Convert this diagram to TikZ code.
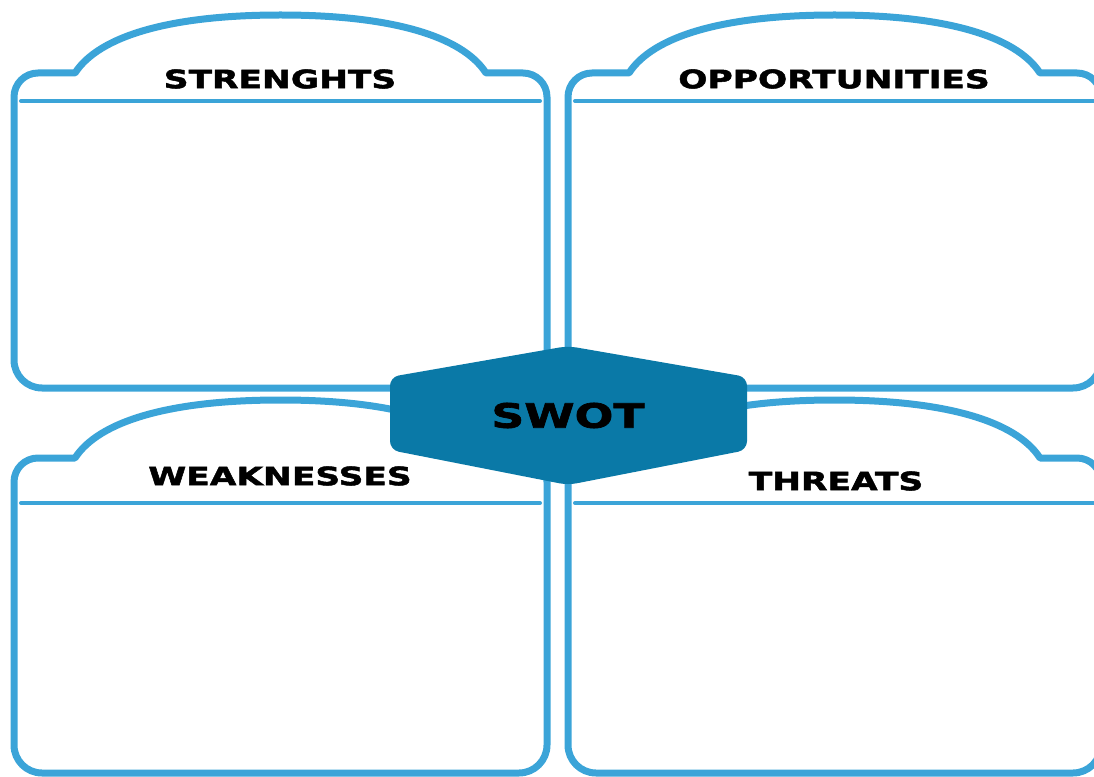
\documentclass[tikz,border=0pt]{standalone}
\usepackage{fontspec}
\usepackage{xcolor}
\usepackage{tikz}
\newfontfamily\headfont{DejaVu Sans}[FakeStretch=1.36,FakeBold=2]
\definecolor{cLine}{HTML}{3BA4D8}
\definecolor{cHex}{HTML}{0A79A7}
\tikzset{boxline/.style={draw=cLine,line width=0.14cm,line join=round},
  headrule/.style={draw=cLine,line width=0.08cm,line cap=round},
  headlabel/.style={font=\headfont\bfseries\fontsize{14.4}{17}\selectfont,inner sep=0pt}}
% one quadrant: frame with a domed tab on top, rule under the heading at height #2
\newcommand{\swotbox}[2]{%
  \begin{scope}[shift={(#1)}]
    \draw[boxline] (1.22,6.30) -- (0.48,6.30) arc[start angle=90,end angle=180,radius=0.48]
      -- (0,0.56) arc[start angle=180,end angle=270,radius=0.56]
      -- (10.10,0) arc[start angle=270,end angle=360,radius=0.56]
      -- (10.66,5.82) arc[start angle=0,end angle=90,radius=0.48]
      -- (9.44,6.30) .. controls (8.96,7.04) and (7.54,7.46) .. (5.33,7.46)
      .. controls (3.12,7.46) and (1.70,7.04) .. (1.22,6.30) -- cycle;
    \draw[headrule] (0.14,#2) -- (10.52,#2);
  \end{scope}}

\begin{document}
\begin{tikzpicture}
  \useasboundingbox (0,0) rectangle (21.88,15.52);
  \swotbox{0.28,7.76}{5.74}
  \swotbox{11.36,7.76}{5.74}
  \swotbox{0.28,0.06}{5.40}
  \swotbox{11.36,0.06}{5.40}
  \node[headlabel] (strengths) at (5.60,13.94) {STRENGHTS};
  \node[headlabel] (opportunities) at (16.68,13.94) {OPPORTUNITIES};
  \node[headlabel] (weaknesses) at (5.60,6.00) {WEAKNESSES};
  \node[headlabel] (threats) at (16.72,5.90) {THREATS};
  % centre badge
  \fill[cHex,rounded corners=5pt] (11.36,8.60) -- (7.80,7.98) -- (7.80,6.52)
    -- (11.36,5.82) -- (14.94,6.52) -- (14.94,7.98) -- cycle;
  \node[headlabel,font=\headfont\bfseries\fontsize{19.1}{22}\selectfont] (swot) at (11.36,7.21) {SWOT};
\end{tikzpicture}
\end{document}
